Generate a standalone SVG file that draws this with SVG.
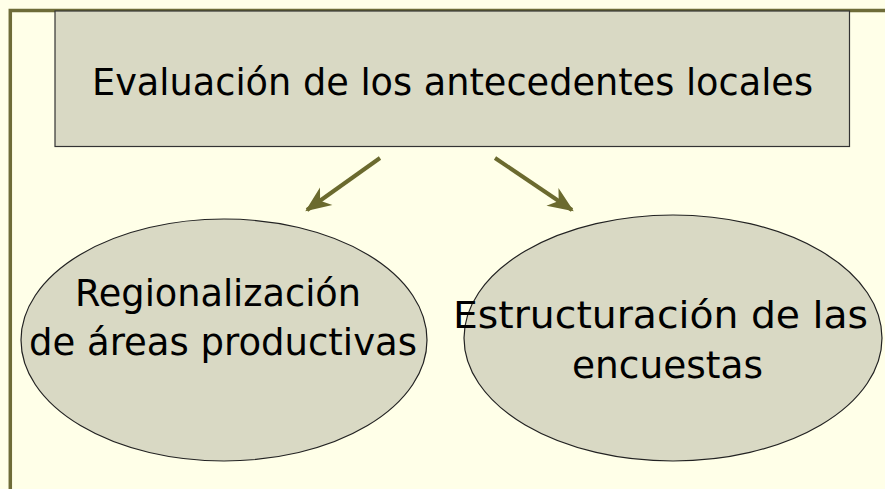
<svg xmlns="http://www.w3.org/2000/svg" width="885" height="489" viewBox="0 0 885 489">
  <style>
    .bg { fill: #FFFFE8; }
    .frame { fill: none; stroke: #6E6C38; stroke-width: 3.5; }
    .box { fill: #D9D9C4; stroke: #333333; stroke-width: 1.2; }
    .oval { fill: #D9D9C4; stroke: #222222; stroke-width: 1.2; }
    .lbl { font-family: "DejaVu Sans", Verdana, sans-serif; font-size: 38px; fill: #000000; }
    .conn { stroke: #6B6A2E; stroke-width: 4; fill: none; }
  </style>
  <defs>
    <marker id="head" markerUnits="userSpaceOnUse" markerWidth="30" markerHeight="30" viewBox="-24 -12 28 24" refX="0" refY="0" orient="auto">
      <path d="M2,0 L-22,-10 L-15,0 L-22,10 Z" fill="#6B6A2E"/>
    </marker>
  </defs>
  <rect class="bg" x="0" y="0" width="885" height="489"/>
  <path class="frame" d="M10.3,489 V10.5 H885"/>

  <g id="node-evaluacion">
    <rect class="box" x="55" y="11" width="794.5" height="135.5"/>
    <text class="lbl" x="452.5" y="95" text-anchor="middle" textLength="721" lengthAdjust="spacingAndGlyphs">Evaluación de los antecedentes locales</text>
  </g>

  <g id="node-regionalizacion">
    <ellipse class="oval" cx="224" cy="340" rx="203" ry="121"/>
    <text class="lbl" x="218" y="306" text-anchor="middle" textLength="286" lengthAdjust="spacingAndGlyphs">Regionalización</text>
    <text class="lbl" x="223" y="355" text-anchor="middle" textLength="388" lengthAdjust="spacingAndGlyphs">de áreas productivas</text>
  </g>

  <g id="node-estructuracion">
    <ellipse class="oval" cx="673" cy="338" rx="209" ry="123"/>
    <text class="lbl" x="660.5" y="328" text-anchor="middle" textLength="415" lengthAdjust="spacingAndGlyphs">Estructuración de las</text>
    <text class="lbl" x="667.5" y="378" text-anchor="middle" textLength="191" lengthAdjust="spacingAndGlyphs">encuestas</text>
  </g>

  <g id="connectors">
    <line class="conn" x1="380" y1="158" x2="307" y2="210" marker-end="url(#head)"/>
    <line class="conn" x1="495" y1="158" x2="572" y2="210" marker-end="url(#head)"/>
  </g>
</svg>
